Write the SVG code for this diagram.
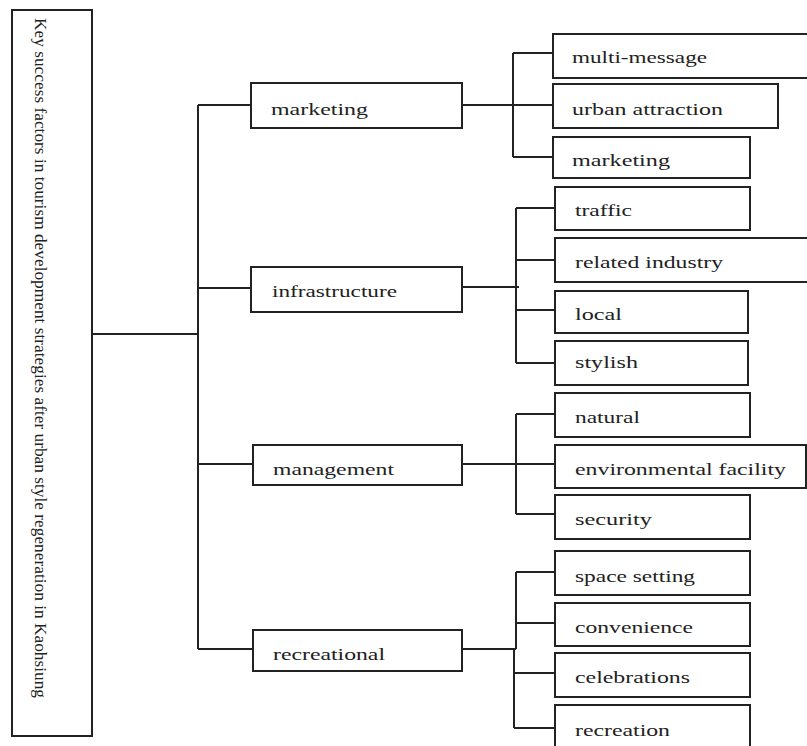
<svg xmlns="http://www.w3.org/2000/svg" width="807" height="746" viewBox="0 0 807 746">
<style>
.box{fill:#fff;stroke:#222;stroke-width:2}
.ln{fill:none;stroke:#222;stroke-width:2}
.t{font-family:"Liberation Serif","Times New Roman",serif;font-size:17px;fill:#222}
</style>
<rect width="807" height="746" fill="#fff"/>
<g id="connectors">
<path class="ln" d="M92 334H198M198 105V649M198 105H251M198 288H251M198 464H253M198 649H253"/>
<path class="ln" d="M462 105H513M513 53V157M513 53H553M513 105H553M513 157H553"/>
<path class="ln" d="M462 287H519M516 208V363M516 208H555M516 260H555M516 310H555M516 363H555"/>
<path class="ln" d="M462 464H516M516 414V514M516 414H555M516 464H555M516 514H555"/>
<path class="ln" d="M462 649H516M516 572V649M514 649V728M516 572H555M516 623H555M514 673H555M514 728H555"/>
</g>
<g id="root"><rect class="box" x="12" y="10" width="80" height="726" stroke-width="3"/><text class="t" transform="translate(35,18) rotate(90)" font-size="22" textLength="680" lengthAdjust="spacingAndGlyphs">Key success factors in tourism development strategies after urban style regeneration in Kaohsiung</text></g>
<g id="marketing"><rect class="box" x="251" y="83" width="211" height="45"/><text class="t" x="271" y="115" textLength="97" lengthAdjust="spacingAndGlyphs">marketing</text></g>
<g id="infrastructure"><rect class="box" x="251" y="267" width="211" height="45"/><text class="t" x="272" y="297" textLength="125" lengthAdjust="spacingAndGlyphs">infrastructure</text></g>
<g id="management"><rect class="box" x="253" y="445" width="209" height="40"/><text class="t" x="273" y="475" textLength="121" lengthAdjust="spacingAndGlyphs">management</text></g>
<g id="recreational"><rect class="box" x="253" y="630" width="209" height="41"/><text class="t" x="273" y="660" textLength="112" lengthAdjust="spacingAndGlyphs">recreational</text></g>
<g id="multi-message"><rect class="box" x="553" y="34" width="262" height="44"/><text class="t" x="572" y="63" textLength="135" lengthAdjust="spacingAndGlyphs">multi-message</text></g>
<g id="urban-attraction"><rect class="box" x="553" y="84" width="225" height="44"/><text class="t" x="572" y="115" textLength="151" lengthAdjust="spacingAndGlyphs">urban attraction</text></g>
<g id="marketing-2"><rect class="box" x="553" y="137" width="197" height="41"/><text class="t" x="572" y="166" textLength="98" lengthAdjust="spacingAndGlyphs">marketing</text></g>
<g id="traffic"><rect class="box" x="555" y="187" width="195" height="43"/><text class="t" x="575" y="216" textLength="57" lengthAdjust="spacingAndGlyphs">traffic</text></g>
<g id="related-industry"><rect class="box" x="555" y="238" width="260" height="44"/><text class="t" x="575" y="268" textLength="148" lengthAdjust="spacingAndGlyphs">related industry</text></g>
<g id="local"><rect class="box" x="555" y="291" width="193" height="42"/><text class="t" x="575" y="320" textLength="47" lengthAdjust="spacingAndGlyphs">local</text></g>
<g id="stylish"><rect class="box" x="555" y="341" width="193" height="44"/><text class="t" x="575" y="368" textLength="63" lengthAdjust="spacingAndGlyphs">stylish</text></g>
<g id="natural"><rect class="box" x="555" y="393" width="195" height="44"/><text class="t" x="575" y="423" textLength="65" lengthAdjust="spacingAndGlyphs">natural</text></g>
<g id="environmental-facility"><rect class="box" x="555" y="445" width="251" height="43"/><text class="t" x="575" y="475" textLength="211" lengthAdjust="spacingAndGlyphs">environmental facility</text></g>
<g id="security"><rect class="box" x="555" y="495" width="195" height="44"/><text class="t" x="575" y="525" textLength="77" lengthAdjust="spacingAndGlyphs">security</text></g>
<g id="space-setting"><rect class="box" x="555" y="551" width="195" height="44"/><text class="t" x="575" y="582" textLength="120" lengthAdjust="spacingAndGlyphs">space setting</text></g>
<g id="convenience"><rect class="box" x="555" y="603" width="195" height="43"/><text class="t" x="575" y="633" textLength="118" lengthAdjust="spacingAndGlyphs">convenience</text></g>
<g id="celebrations"><rect class="box" x="555" y="653" width="195" height="44"/><text class="t" x="575" y="683" textLength="115" lengthAdjust="spacingAndGlyphs">celebrations</text></g>
<g id="recreation"><rect class="box" x="555" y="705" width="195" height="45"/><text class="t" x="575" y="736" textLength="95" lengthAdjust="spacingAndGlyphs">recreation</text></g>
</svg>
